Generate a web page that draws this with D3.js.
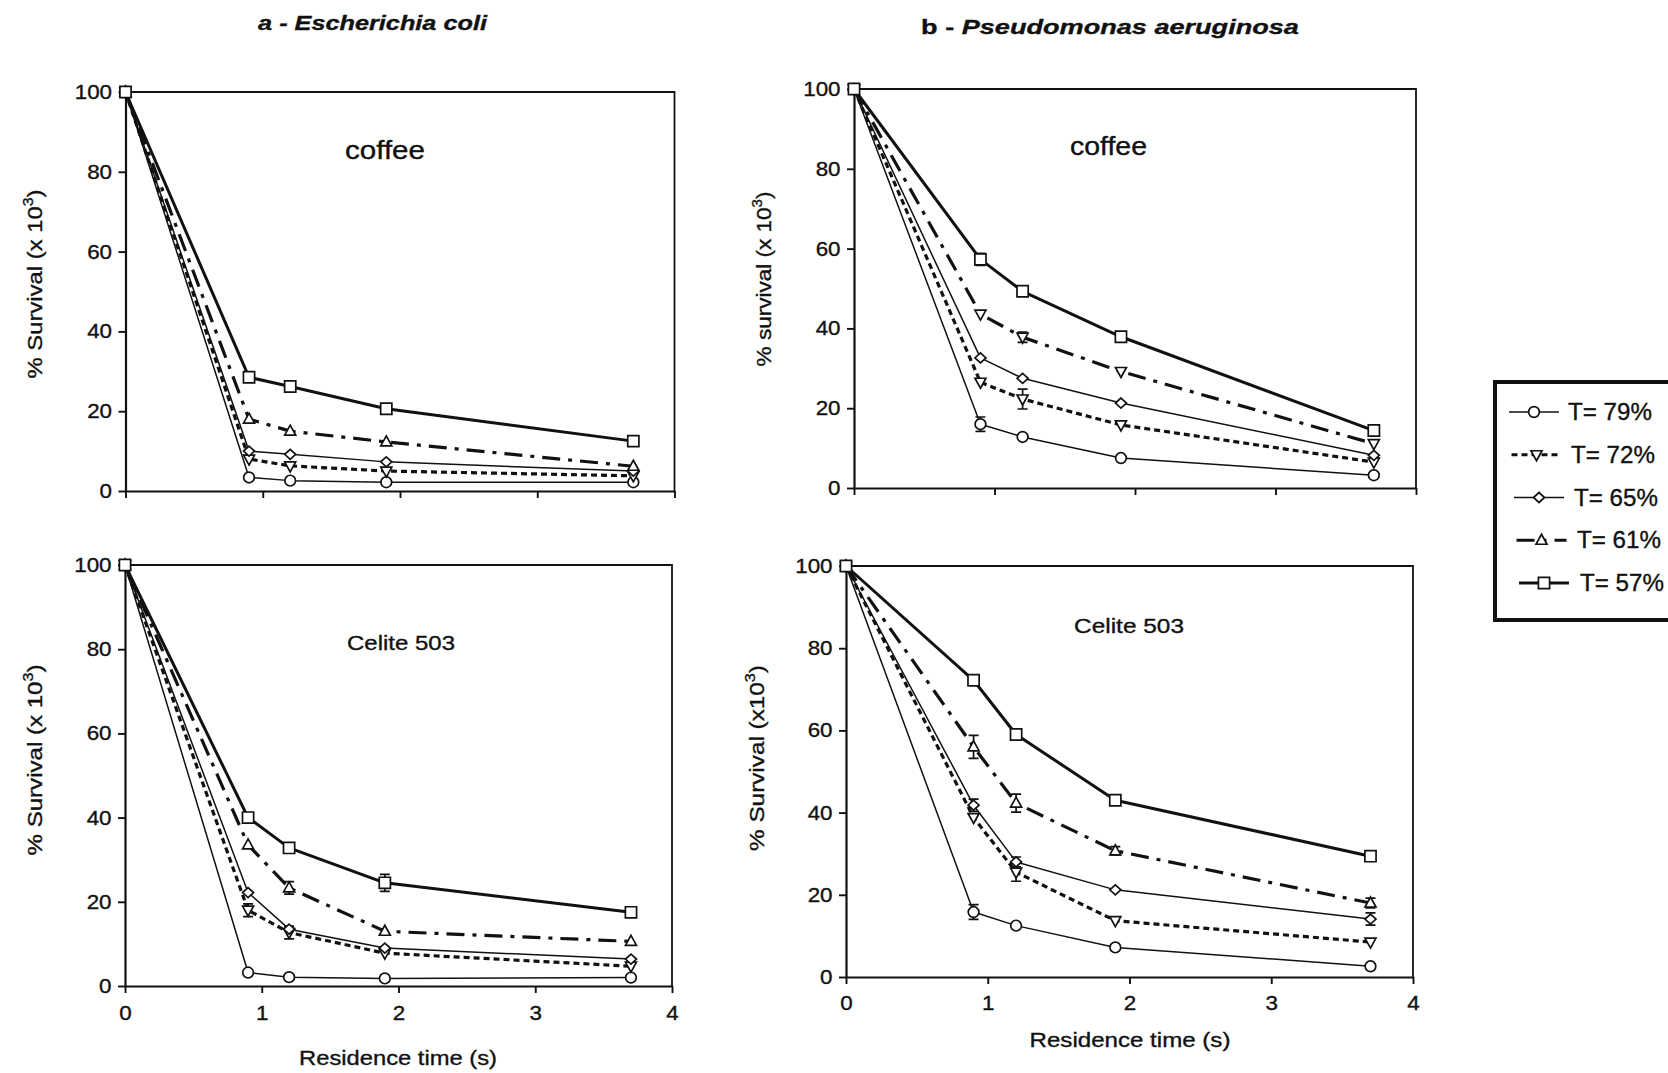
<!DOCTYPE html>
<html><head><meta charset="utf-8">
<script src="https://cdn.jsdelivr.net/npm/d3@7"></script>
<style>
body{margin:0;background:#fff}
svg{display:block}
text{font-family:"Liberation Sans",Arial,Helvetica,sans-serif;fill:#111;stroke:#111;stroke-width:0.35px}
</style>
</head><body>
<svg id="c" width="1668" height="1073"></svg>
<script>
// ---------------- data ----------------
const xValues = [0, 0.9, 1.2, 1.9, 3.7];            // residence time (s)
const seriesLabels = ["T= 79%", "T= 72%", "T= 65%", "T= 61%", "T= 57%"];
const seriesSymbols = ["circle", "down", "diamond", "up", "square"];
const xTicks = [0, 1, 2, 3, 4];
const yTicks = [0, 20, 40, 60, 80, 100];

// % survival (x10^3), one row per series in seriesLabels order
const coliCoffee = [
  [100, 3.4, 2.6, 2.2, 2.2],
  [100, 8.0, 6.3, 5.0, 3.8],
  [100, 10.0, 9.2, 7.3, 5.0],
  [100, 18.0, 15.0, 12.3, 6.2],
  [100, 28.5, 26.2, 20.6, 12.5]
];
const coliCelite = [
  [100, 3.2, 2.1, 1.8, 2.0],
  [100, 18.0, 12.7, 7.8, 4.7],
  [100, 22.2, 13.5, 9.0, 6.4],
  [100, 33.5, 23.3, 13.0, 10.6],
  [100, 40.0, 32.8, 24.5, 17.5]
];
const pseudoCoffee = [
  [100, 16.0, 12.8, 7.5, 3.2],
  [100, 26.5, 22.3, 15.8, 6.5],
  [100, 32.6, 27.5, 21.3, 8.2],
  [100, 43.6, 37.8, 29.2, 11.1],
  [100, 57.3, 49.3, 37.9, 14.4]
];
const pseudoCelite = [
  [100, 15.8, 12.5, 7.2, 2.6],
  [100, 38.8, 25.5, 13.7, 8.5],
  [100, 41.8, 28.0, 21.2, 14.1],
  [100, 56.0, 42.3, 30.7, 18.0],
  [100, 72.2, 59.0, 43.0, 29.4]
];
// error bars: [series index, point index, +/-]
const coliCoffeeErr = [[4, 2, 1.2]];
const coliCeliteErr = [[4, 3, 2.0], [3, 2, 1.5], [1, 1, 1.5], [1, 2, 1.5]];
const pseudoCoffeeErr = [[4, 1, 1.5], [3, 2, 1.3], [1, 2, 2.5], [0, 1, 1.8]];
const pseudoCeliteErr = [[3, 1, 2.8], [3, 2, 2.2], [2, 1, 1.5], [1, 2, 2.2], [0, 1, 1.8], [2, 4, 1.5], [3, 4, 1.2], [3, 3, 1.0], [2, 2, 1.2]];
// markers drawn in the P. aeruginosa coffee panel
const pseudoCoffeeSymbols = ["circle", "down", "diamond", "down", "square"];

// ---------------- styles ----------------
const lineStyles = [
  {w: 1.5, dash: null},
  {w: 3.2, dash: "6,4"},
  {w: 1.5, dash: null},
  {w: 3.2, dash: "18,8,4,8"},
  {w: 3.0, dash: null}
];
const INK = "#111";
const svg = d3.select("#c");

function symbolPath(type) {
  switch (type) {
    case "circle": return d3.symbol(d3.symbolCircle, 90)();
    case "square": return d3.symbol(d3.symbolSquare, 125)();
    case "diamond": return "M0,-5L5.5,0L0,5L-5.5,0Z";
    case "up": return "M0,-6L5.5,4L-5.5,4Z";
    case "down": return "M0,6L5.5,-4L-5.5,-4Z";
  }
}

function fit(t, cx, cy, target, rot) {
  const w = t.node().getComputedTextLength();
  const s = target / w;
  t.attr("text-anchor", "middle")
   .attr("transform", `translate(${cx},${cy})${rot ? " rotate(-90)" : ""} scale(${s},1)`);
}

function yLabel(g, prefix, cx, cy, target) {
  const t = g.append("text").attr("font-size", 21);
  t.append("tspan").text(prefix);
  t.append("tspan").attr("font-size", 14).attr("dy", -9).text("3");
  t.append("tspan").attr("dy", 9).text(")");
  fit(t, cx, cy, target, true);
}

function panel(cfg) {
  const g = svg.append("g");
  const x = d3.scaleLinear([0, 4], [cfg.left, cfg.right]);
  const y = d3.scaleLinear([0, 100], [cfg.bottom, cfg.top]);

  // frame top & right
  g.append("path")
    .attr("d", `M${x(0)},${y(100)}L${x(4)},${y(100)}L${x(4)},${y(0)}`)
    .attr("fill", "none").attr("stroke", INK).attr("stroke-width", 1.8);

  const ya = g.append("g").attr("transform", `translate(${x(0)},0)`)
    .call(d3.axisLeft(y).tickValues(yTicks).tickSize(7).tickPadding(5).tickSizeOuter(0));
  const xa = g.append("g").attr("transform", `translate(0,${y(0)})`)
    .call(d3.axisBottom(x).tickValues(xTicks).tickSize(7).tickPadding(cfg.xPad).tickSizeOuter(0)
      .tickFormat(cfg.xLabels ? d3.format("d") : () => ""));
  [ya, xa].forEach(a => {
    a.select(".domain").attr("stroke", INK).attr("stroke-width", 2.2);
    a.selectAll(".tick line").attr("stroke", INK).attr("stroke-width", 1.9);
    a.selectAll(".tick text").attr("font-size", 20).attr("fill", INK)
      .attr("font-family", '"Liberation Sans",Arial,sans-serif');
  });
  ya.selectAll(".tick text").attr("transform", "scale(1.12,1)");
  xa.selectAll(".tick text").attr("transform", "scale(1.12,1)");

  const line = d3.line().x((d, i) => x(xValues[i])).y(d => y(d));
  const order = [0, 1, 2, 3, 4];
  order.forEach(s => {
    g.append("path").datum(cfg.data[s]).attr("d", line)
      .attr("fill", "none").attr("stroke", INK)
      .attr("stroke-width", lineStyles[s].w)
      .attr("stroke-dasharray", lineStyles[s].dash)
      .attr("stroke-linejoin", "round");
  });
  // error bars
  cfg.err.forEach(([s, i, e]) => {
    const v = cfg.data[s][i], cx = x(xValues[i]);
    const p = `M${cx},${y(v - e)}L${cx},${y(v + e)}M${cx - 5},${y(v - e)}L${cx + 5},${y(v - e)}M${cx - 5},${y(v + e)}L${cx + 5},${y(v + e)}`;
    g.append("path").attr("d", p).attr("stroke", INK).attr("stroke-width", 1.7).attr("fill", "none");
  });
  // markers
  order.forEach(s => {
    g.selectAll(null).data(cfg.data[s]).join("path")
      .attr("d", symbolPath(cfg.symbols[s]))
      .attr("transform", (d, i) => `translate(${x(xValues[i])},${y(d)})`)
      .attr("fill", "#fff").attr("stroke", INK).attr("stroke-width", 1.7);
  });

  const lab = g.append("text").attr("font-size", cfg.labelSize).text(cfg.label);
  fit(lab, cfg.labelX, cfg.labelY, cfg.labelW, false);

  yLabel(g, cfg.yText, cfg.yLabX, cfg.yLabY, cfg.yLabW);

  if (cfg.xTitle) {
    const xt = g.append("text").attr("font-size", 21).text("Residence time (s)");
    fit(xt, cfg.xTitle[0], cfg.xTitle[1], cfg.xTitle[2], false);
  }
}

panel({data: coliCoffee, err: coliCoffeeErr, symbols: seriesSymbols,
  left: 125.5, right: 674.5, top: 92, bottom: 491, xLabels: false, xPad: 14,
  label: "coffee", labelSize: 25, labelX: 385, labelY: 159, labelW: 80,
  yText: "% Survival (x 10", yLabX: 42, yLabY: 284, yLabW: 189});
panel({data: pseudoCoffee, err: pseudoCoffeeErr, symbols: pseudoCoffeeSymbols,
  left: 854, right: 1416, top: 89, bottom: 488, xLabels: false, xPad: 12,
  label: "coffee", labelSize: 25, labelX: 1108.5, labelY: 155, labelW: 77,
  yText: "% survival (x 10", yLabX: 771, yLabY: 279, yLabW: 175});
panel({data: coliCelite, err: coliCeliteErr, symbols: seriesSymbols,
  left: 125, right: 672, top: 565, bottom: 986, xLabels: true, xPad: 13,
  label: "Celite 503", labelSize: 21, labelX: 401, labelY: 650, labelW: 108,
  yText: "% Survival (x 10", yLabX: 42, yLabY: 760, yLabW: 191,
  xTitle: [398, 1065, 198]});
panel({data: pseudoCelite, err: pseudoCeliteErr, symbols: seriesSymbols,
  left: 846, right: 1413, top: 566, bottom: 977, xLabels: true, xPad: 11.5,
  label: "Celite 503", labelSize: 21, labelX: 1129, labelY: 633, labelW: 110,
  yText: "% Survival (x10", yLabX: 764, yLabY: 758, yLabW: 186,
  xTitle: [1130, 1047, 201]});

// titles
const ta = svg.append("text").attr("font-size", 21).attr("font-weight", "bold").attr("font-style", "italic")
  .text("a - Escherichia coli");
fit(ta, 372.5, 30, 229, false);
const tb = svg.append("text").attr("font-size", 21).attr("font-weight", "bold");
tb.append("tspan").text("b - ");
tb.append("tspan").attr("font-style", "italic").text("Pseudomonas aeruginosa");
fit(tb, 1110, 34, 378, false);

// legend
const lg = svg.append("g");
lg.append("rect").attr("x", 1495).attr("y", 382).attr("width", 220).attr("height", 238)
  .attr("fill", "none").attr("stroke", INK).attr("stroke-width", 4);
seriesLabels.forEach((lbl, i) => {
  const cy = 412 + i * 42.75, x0 = 1509 + i * 2.5, x1 = x0 + 50;
  lg.append("line").attr("x1", x0).attr("x2", x1).attr("y1", cy).attr("y2", cy)
    .attr("stroke", INK).attr("stroke-width", lineStyles[i].w)
    .attr("stroke-dasharray", lineStyles[i].dash);
  lg.append("path").attr("d", symbolPath(seriesSymbols[i]))
    .attr("transform", `translate(${(x0 + x1) / 2},${cy})`)
    .attr("fill", "#fff").attr("stroke", INK).attr("stroke-width", 1.7);
  const t = lg.append("text").attr("font-size", 23).text(lbl);
  const w = t.node().getComputedTextLength();
  t.attr("transform", `translate(${1568 + i * 3},${cy + 8}) scale(${84 / w},1)`);
});
</script>
</body></html>
